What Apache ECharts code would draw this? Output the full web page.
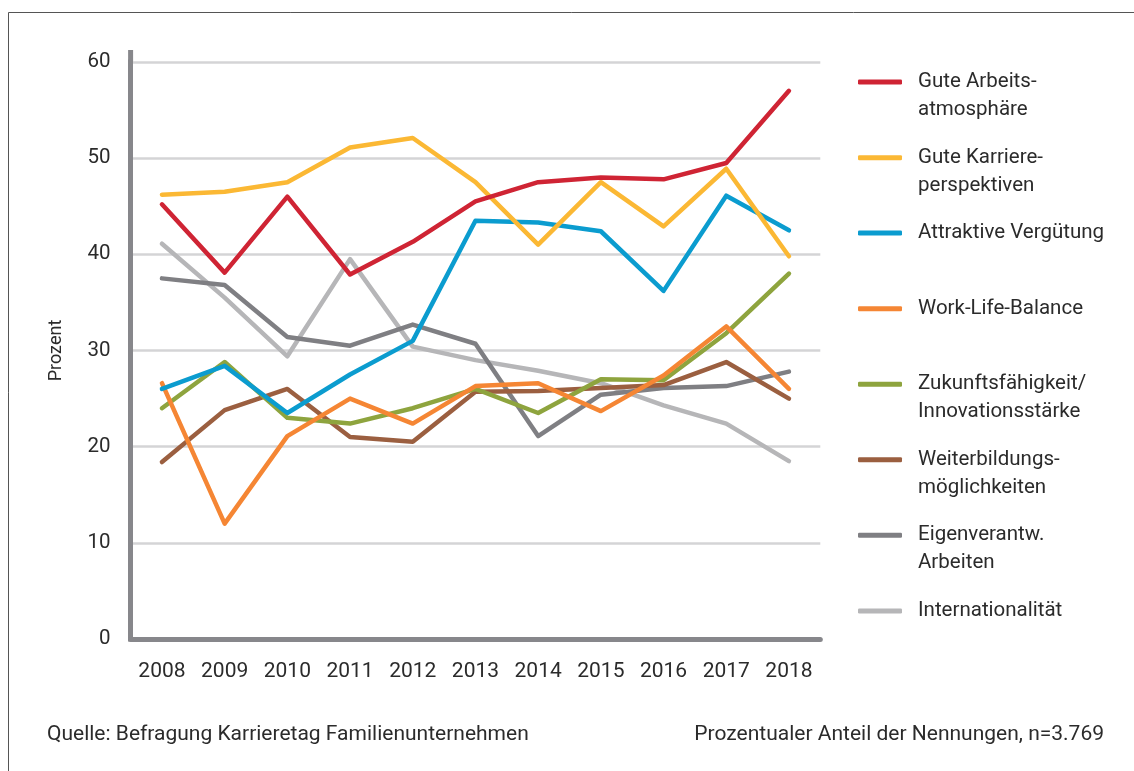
<!DOCTYPE html>
<html>
<head>
<meta charset="utf-8">
<script src="https://cdn.jsdelivr.net/npm/echarts@6/dist/echarts.min.js"></script>
<style>
html,body{margin:0;padding:0;background:#fff;}
#chart{width:1134px;height:771px;}
</style>
</head>
<body>
<div id="chart"></div>
<script>
// ---- Data ----
var years = ['2008','2009','2010','2011','2012','2013','2014','2015','2016','2017','2018'];
var seriesNames = ['Gute Arbeitsatmosphäre','Gute Karriereperspektiven','Attraktive Vergütung','Work-Life-Balance','Zukunftsfähigkeit/Innovationsstärke','Weiterbildungsmöglichkeiten','Eigenverantw. Arbeiten','Internationalität'];
var legendLabels = ['Gute Arbeits-\natmosphäre','Gute Karriere-\nperspektiven','Attraktive Vergütung','Work-Life-Balance','Zukunftsfähigkeit/\nInnovationsstärke','Weiterbildungs-\nmöglichkeiten','Eigenverantw.\nArbeiten','Internationalität'];
var arbeitsatmosphaere = [45.2, 38.1, 46.0, 37.9, 41.3, 45.5, 47.5, 48.0, 47.8, 49.5, 57.0];
var karriere = [46.2, 46.5, 47.5, 51.1, 52.1, 47.5, 41.0, 47.5, 42.9, 48.9, 39.8];
var verguetung = [26.0, 28.4, 23.5, 27.5, 31.0, 43.5, 43.3, 42.4, 36.2, 46.1, 42.5];
var workLife = [26.6, 12.0, 21.1, 25.0, 22.4, 26.3, 26.6, 23.7, 27.4, 32.5, 26.0];
var zukunft = [24.0, 28.8, 23.0, 22.4, 24.0, 26.0, 23.5, 27.0, 26.9, 31.8, 38.0];
var weiterbildung = [18.4, 23.8, 26.0, 21.0, 20.5, 25.7, 25.8, 26.1, 26.4, 28.8, 25.0];
var eigenverantw = [37.5, 36.8, 31.4, 30.5, 32.7, 30.7, 21.1, 25.4, 26.1, 26.3, 27.8];
var international = [41.1, 35.5, 29.4, 39.5, 30.4, 29.0, 27.9, 26.6, 24.3, 22.4, 18.5];
var yTicks = [0, 10, 20, 30, 40, 50, 60];
var sourceText = 'Quelle: Befragung Karrieretag Familienunternehmen';
var noteText = 'Prozentualer Anteil der Nennungen, n=3.769';
var yAxisTitle = 'Prozent';

// ---- Styles ----
var allData = [arbeitsatmosphaere, karriere, verguetung, workLife, zukunft, weiterbildung, eigenverantw, international];
var colors = ['#cf2434','#fbb834','#0b9ccf','#f58634','#8ea43e','#9b5f40','#7f7f83','#b6b6b8'];
var legendIconY = [80, 155.7, 231, 306.7, 382.3, 457.7, 533.3, 609];
var FONT = 'Roboto, "Liberation Sans", sans-serif';
var TEXT = '#2b2b2b';
var AXIS = '#87878b';
var LH = 28;

var series = seriesNames.map(function(n, i){
  return {
    name: n, type: 'line', data: allData[i], symbol: 'none', z: 20 - i,
    color: colors[i],
    lineStyle: {width: 4.5, color: colors[i], cap: 'round', join: 'round'},
    emphasis: {disabled: true}, animation: false
  };
});

var legends = seriesNames.map(function(n, i){
  var two = legendLabels[i].indexOf('\n') >= 0;
  // two-line labels get a leading blank line so the icon sits at the first text line
  var label = two ? ' \n' + legendLabels[i] : legendLabels[i];
  return {
    data: [n], left: 858, top: legendIconY[i] + 2 - (two ? 1.5 * LH : 0.5 * LH),
    orient: 'vertical', padding: 0, itemGap: 0,
    itemWidth: 44, itemHeight: 5, icon: 'roundRect',
    selectedMode: false,
    formatter: function(){ return label; },
    textStyle: {fontFamily: FONT, fontSize: 20.5, color: TEXT, lineHeight: LH,
      padding: [0, 0, 0, 11]}
  };
});

var chart = echarts.init(document.getElementById('chart'), null, {renderer: 'canvas'});
chart.setOption({
  backgroundColor: '#fff',
  animation: false,
  title: [
    {text: sourceText, left: 47, top: 724, padding: 0,
     textStyle: {fontFamily: FONT, fontSize: 21, fontWeight: 'normal', color: TEXT}},
    {text: noteText, right: 30, top: 724, padding: 0,
     textStyle: {fontFamily: FONT, fontSize: 21, fontWeight: 'normal', color: TEXT}}
  ],
  legend: legends,
  grid: {left: 130.6, right: 313.7, top: 62, bottom: 132, containLabel: false},
  xAxis: {
    type: 'category', data: years, boundaryGap: true,
    axisLine: {show: true, lineStyle: {color: AXIS, width: 5}},
    axisTick: {show: false},
    axisLabel: {fontFamily: FONT, fontSize: 21, color: TEXT, margin: 22},
    splitLine: {show: false}
  },
  yAxis: {
    type: 'value', min: yTicks[0], max: yTicks[yTicks.length - 1], interval: 10,
    name: yAxisTitle, nameLocation: 'middle', nameGap: 65, nameRotate: 90,
    nameTextStyle: {fontFamily: FONT, fontSize: 18, color: TEXT},
    axisLine: {show: true, lineStyle: {color: AXIS, width: 5, cap: 'square'}},
    axisTick: {show: false},
    axisLabel: {fontFamily: FONT, fontSize: 20.5, color: TEXT, margin: 20},
    splitLine: {show: true, lineStyle: {color: '#d4d4d6', width: 2.5}}
  },
  graphic: [
    {type: 'rect', silent: true, shape: {x: 8.5, y: 12.5, width: 1200, height: 900},
     style: {fill: null, stroke: '#555', lineWidth: 1}},
    {type: 'line', silent: true, shape: {x1: 130.6, y1: 50, x2: 130.6, y2: 62},
     style: {stroke: AXIS, lineWidth: 5}}
  ],
  series: series
});
</script>
</body>
</html>
